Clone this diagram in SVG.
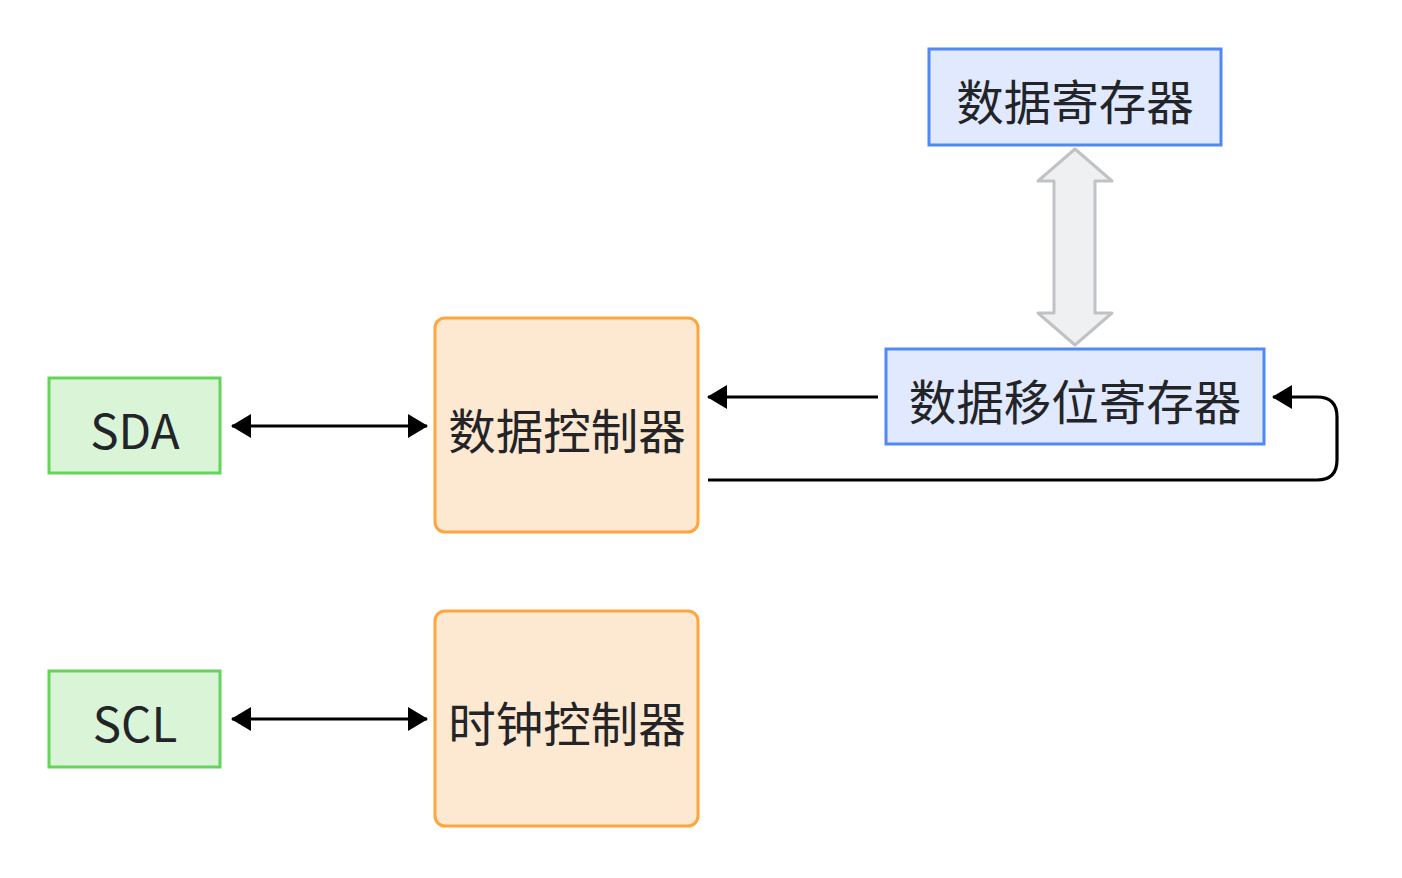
<svg xmlns="http://www.w3.org/2000/svg" width="1402" height="878" viewBox="0 0 1402 878">
<defs>
<style>
.t{font-family:"Noto Sans CJK SC","Noto Sans",sans-serif;font-size:47.5px;fill:#222428;text-anchor:middle;dominant-baseline:central}
.green{fill:#d9f4d6;stroke:#66d45a;stroke-width:3}
.orange{fill:#fde8d1;stroke:#ffa53f;stroke-width:3}
.blue{fill:#e0e9fd;stroke:#5088f5;stroke-width:3}
.c{fill:none;stroke:#000;stroke-width:3.2}
</style>
<marker id="ah" viewBox="0 0 20 24" refX="19" refY="12" markerWidth="20" markerHeight="24" markerUnits="userSpaceOnUse" orient="auto-start-reverse">
<path d="M0,0 L20,12 L0,24 Z" fill="#000"/>
</marker>
</defs>
<g id="n-sda"><rect class="green" x="49" y="378" width="171" height="95"/><text class="t" x="135" y="428">SDA</text></g>
<g id="n-scl"><rect class="green" x="49" y="671" width="171" height="96"/><text class="t" x="135" y="721">SCL</text></g>
<g id="n-datactl"><rect class="orange" x="435" y="318" width="263" height="214" rx="10"/><text class="t" x="567" y="428">数据控制器</text></g>
<g id="n-clkctl"><rect class="orange" x="435" y="611" width="263" height="215" rx="10"/><text class="t" x="567" y="721">时钟控制器</text></g>
<g id="n-datareg"><rect class="blue" x="929" y="49" width="292" height="96"/><text class="t" x="1075" y="99">数据寄存器</text></g>
<g id="n-shiftreg"><rect class="blue" x="886" y="349" width="378" height="95"/><text class="t" x="1075" y="399">数据移位寄存器</text></g>
<g id="connectors">
<path class="c" d="M232,426 L427,426" marker-start="url(#ah)" marker-end="url(#ah)"/>
<path class="c" d="M232,719 L427,719" marker-start="url(#ah)" marker-end="url(#ah)"/>
<path class="c" d="M878,397 L708,397" marker-end="url(#ah)"/>
<path class="c" d="M708,480 L1317,480 Q1337,480 1337,460 L1337,417 Q1337,397 1317,397 L1273,397" marker-end="url(#ah)"/>
<path d="M1075,149 L1112,181 L1095,181 L1095,313 L1112,313 L1075,345 L1038,313 L1054,313 L1054,181 L1038,181 Z" fill="#eff0f1" stroke="#c0c2c5" stroke-width="3" stroke-linejoin="round"/>
</g>
</svg>
